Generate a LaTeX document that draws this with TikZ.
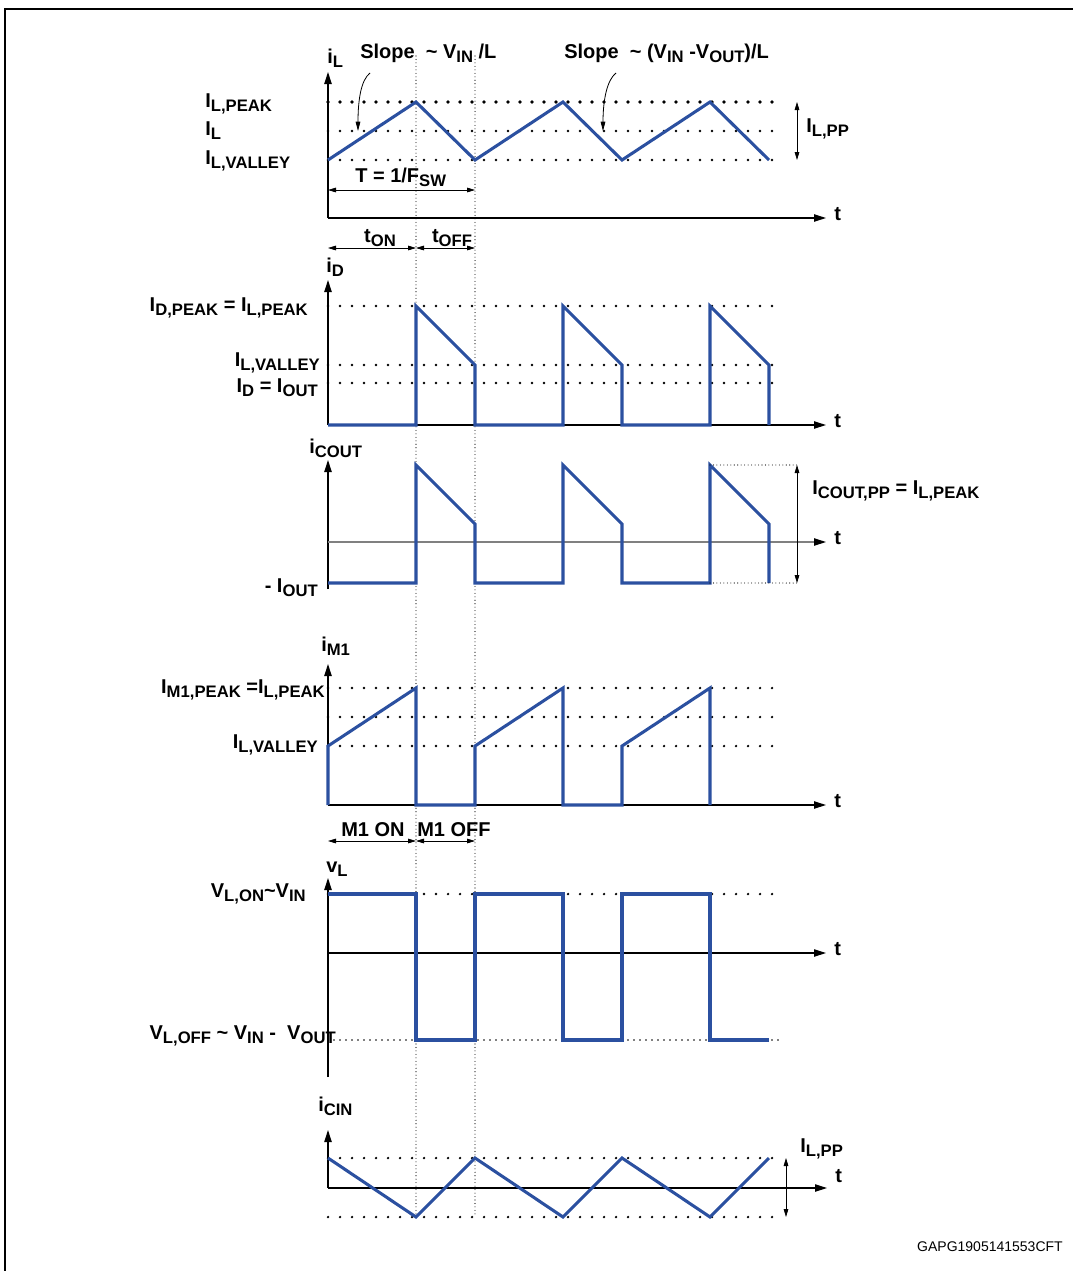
\documentclass[tikz,border=0pt]{standalone}
\usepackage{fontspec}
\setmainfont{Liberation Sans}
\setsansfont{Liberation Sans}
\usetikzlibrary{arrows.meta}
\definecolor{waveblue}{RGB}{43,80,160}
\newcommand{\lowsub}[1]{\raisebox{-0.45ex}{\fontsize{12.5}{12.5}\selectfont #1}}

\begin{document}
\begin{tikzpicture}[x=0.75pt, y=-0.75pt,
  font=\bfseries\fontsize{15}{17}\selectfont,
  wave/.style={waveblue, line width=2.3pt},
  level/.style={line width=1.9pt, dash pattern=on 0pt off 9pt, line cap=round},
  bigdots/.style={line width=2.8pt, dash pattern=on 0pt off 9pt, line cap=round},
  finedots/.style={line width=0.8pt, dash pattern=on 0pt off 2.6pt, line cap=round},
  axis/.style={line width=0.9pt, -{Triangle[length=9pt,width=5.5pt]}},
  dim/.style={line width=0.6pt, {Triangle[length=6pt,width=3.5pt]}-{Triangle[length=6pt,width=3.5pt]}},
  hint/.style={line width=0.6pt, -{Triangle[length=7pt,width=3.5pt]}},
  lbl/.style={inner sep=0pt}]
  \useasboundingbox (0,0) rectangle (1072,1271);
  \draw[line width=1.6pt] (5,1275) -- (5,9) -- (1076,9);

  % switching instants
  \draw[finedots] (416,56) -- (416,1217);
  \draw[finedots] (475,56) -- (475,1217);

  % inductor current
  \draw[bigdots] (328,102) -- (776,102);
  \draw[level] (328,131) -- (776,131);
  \draw[level] (328,160) -- (776,160);
  \draw[axis] (328,218) -- (328,72);
  \draw[axis] (328,218) -- (826,218);
  \draw[wave] (328,160) -- (416,102) -- (475,160) -- (563,102) -- (622,160) -- (710,102) -- (769,160);
  \draw[dim] (328,190) -- (475,190);
  \draw[dim] (797,102) -- (797,160);
  \draw[hint] (370,73) .. controls (361,80) and (358,100) .. (358,131);
  \draw[hint] (616,73) .. controls (607,80) and (603,100) .. (603,131);
  \node[lbl, anchor=base west] (iL) at (327,63) {i\lowsub{L}};
  \node[lbl, anchor=base west] (slopeon) at (360,58) {Slope\ \ \textasciitilde{} V\lowsub{IN} /L};
  \node[lbl, anchor=base west] (slopeoff) at (564,58) {Slope\ \ \textasciitilde{} (V\lowsub{IN} -V\lowsub{OUT})/L};
  \node[lbl, anchor=base west] (ilpeak) at (205,107) {I\lowsub{L,PEAK}};
  \node[lbl, anchor=base west] (ilavg) at (205,135) {I\lowsub{L}};
  \node[lbl, anchor=base west] (ilvalley) at (205,164) {I\lowsub{L,VALLEY}};
  \node[lbl, anchor=base west] (period) at (355,182) {T = 1/F\lowsub{SW}};
  \node[lbl, anchor=base west] (ilpp) at (806,132) {I\lowsub{L,PP}};
  \node[lbl, anchor=base west] (tA) at (834,220) {t};

  % on and off times
  \draw[dim] (328,248) -- (416,248);
  \draw[dim] (416,248) -- (475,248);
  \node[lbl, anchor=base] (ton) at (380,242) {t\lowsub{ON}};
  \node[lbl, anchor=base] (toff) at (452,242) {t\lowsub{OFF}};

  % diode current
  \draw[level] (328,306) -- (776,306);
  \draw[level] (328,365) -- (776,365);
  \draw[level] (328,383) -- (776,383);
  \draw[axis] (328,425) -- (328,280);
  \draw[axis] (328,425) -- (826,425);
  \draw[wave] (328,425) -- (416,425) -- (416,306) -- (475,365) -- (475,425) -- (563,425) -- (563,306) -- (622,365) -- (622,425) -- (710,425) -- (710,306) -- (769,365) -- (769,425);
  \node[lbl, anchor=base west] (iD) at (326,272) {i\lowsub{D}};
  \node[lbl, anchor=base east] (idpeak) at (308,311) {I\lowsub{D,PEAK} = I\lowsub{L,PEAK}};
  \node[lbl, anchor=base east] (idvalley) at (320,366) {I\lowsub{L,VALLEY}};
  \node[lbl, anchor=base east] (idout) at (318,392) {I\lowsub{D} = I\lowsub{OUT}};
  \node[lbl, anchor=base west] (tB) at (834,427) {t};

  % output capacitor current
  \draw[axis] (328,589) -- (328,460);
  \draw[line width=0.9pt, gray, -{Triangle[length=9pt,width=5.5pt,color=black]}] (328,542) -- (826,542);
  \draw[wave] (328,583) -- (416,583) -- (416,465) -- (475,524) -- (475,583) -- (563,583) -- (563,465) -- (622,524) -- (622,583) -- (710,583) -- (710,465) -- (769,524) -- (769,583);
  \draw[finedots] (710,465) -- (797,465);
  \draw[finedots] (710,583) -- (797,583);
  \draw[dim] (797,465) -- (797,583);
  \node[lbl, anchor=base west] (iC) at (309,453) {i\lowsub{COUT}};
  \node[lbl, anchor=base east] (iout) at (318,592) {- I\lowsub{OUT}};
  \node[lbl, anchor=base west] (icpp) at (812,494) {I\lowsub{COUT,PP} = I\lowsub{L,PEAK}};
  \node[lbl, anchor=base west] (tC) at (834,544) {t};

  % switch current
  \draw[level] (328,688) -- (776,688);
  \draw[level] (328,717) -- (776,717);
  \draw[level] (328,746) -- (776,746);
  \draw[axis] (328,805) -- (328,664);
  \draw[axis] (328,805) -- (826,805);
  \draw[wave] (328,805) -- (328,746) -- (416,688) -- (416,805) -- (475,805) -- (475,746) -- (563,688) -- (563,805) -- (622,805) -- (622,746) -- (710,688) -- (710,805);
  \node[lbl, anchor=base west] (iM) at (321,651) {i\lowsub{M1}};
  \node[lbl, anchor=base east] (impeak) at (325,693) {I\lowsub{M1,PEAK} =I\lowsub{L,PEAK}};
  \node[lbl, anchor=base east] (imvalley) at (318,748) {I\lowsub{L,VALLEY}};
  \node[lbl, anchor=base west] (tD) at (834,807) {t};
  \draw[dim] (328,841) -- (416,841);
  \draw[dim] (416,841) -- (475,841);
  \node[lbl, anchor=base] (mon) at (373,836) {M1 ON};
  \node[lbl, anchor=base] (moff) at (454,836) {M1 OFF};

  % inductor voltage
  \draw[level] (328,894) -- (782,894);
  \draw[level, line width=1.3pt, dash pattern=on 0pt off 4.5pt] (328,1040) -- (782,1040);
  \draw[axis] (328,1077) -- (328,878);
  \draw[axis] (328,953) -- (826,953);
  \draw[wave] (328,894) -- (416,894) -- (416,1040) -- (475,1040) -- (475,894) -- (563,894) -- (563,1040) -- (622,1040) -- (622,894) -- (710,894) -- (710,1040) -- (769,1040);
  \node[lbl, anchor=base west] (vL) at (326,872) {v\lowsub{L}};
  \node[lbl, anchor=base east] (vlon) at (306,897) {V\lowsub{L,ON}\textasciitilde V\lowsub{IN}};
  \node[lbl, anchor=base east] (vloff) at (336,1039) {V\lowsub{L,OFF} \textasciitilde{} V\lowsub{IN} -\ \ V\lowsub{OUT}};
  \node[lbl, anchor=base west] (tE) at (834,955) {t};

  % input capacitor current
  \draw[level] (328,1158) -- (777,1158);
  \draw[level] (328,1217) -- (777,1217);
  \draw[axis] (328,1188) -- (328,1130);
  \draw[axis] (328,1188) -- (827,1188);
  \draw[wave] (328,1158) -- (416,1217) -- (475,1158) -- (563,1217) -- (622,1158) -- (710,1217) -- (769,1158);
  \draw[dim] (786,1158) -- (786,1217);
  \node[lbl, anchor=base west] (iCin) at (318,1111) {i\lowsub{CIN}};
  \node[lbl, anchor=base west] (cinpp) at (800,1152) {I\lowsub{L,PP}};
  \node[lbl, anchor=base west] (tF) at (835,1182) {t};

  \node[lbl, anchor=base east, font=\sffamily\fontsize{10.5}{12}\selectfont] (code) at (1063,1251) {GAPG1905141553CFT};
\end{tikzpicture}
\end{document}
